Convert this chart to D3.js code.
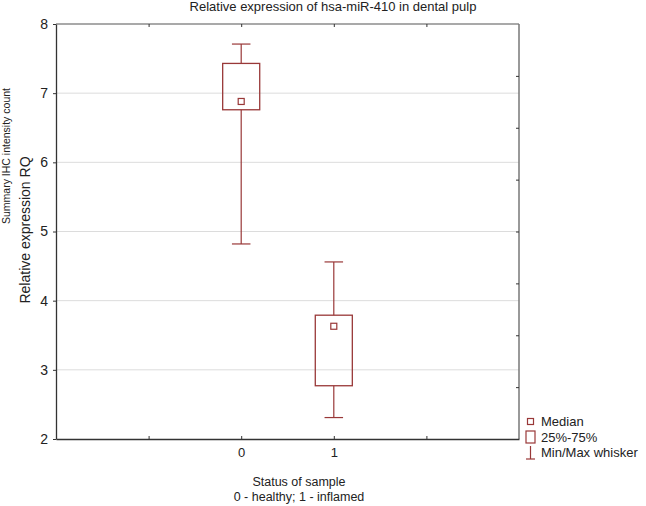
<!DOCTYPE html>
<html>
<head>
<meta charset="utf-8">
<script src="https://cdn.jsdelivr.net/npm/d3@7"></script>
<style>
  body { margin: 0; background: #fff; }
  text { font-family: "Liberation Sans", Arial, sans-serif; fill: #222; }
</style>
</head>
<body>
<div id="vis"></div>
<script>
// data
const GROUPS = [0, 1];
const WHISKER_MIN = [4.82, 2.31];
const Q1 = [6.76, 2.77];
const MEDIAN = [6.88, 3.63];
const Q3 = [7.43, 3.79];
const WHISKER_MAX = [7.71, 4.56];

const Y_TICKS = [2, 3, 4, 5, 6, 7, 8];
const X_TICK_LABELS = [0, 1];
const X_TICKS = [-1, 0, 1, 2];
const RIGHT_TICKS = [1, 2, 3, 4, 5, 6, 7];

const LEGEND_LABELS = ["Median", "25%-75%", "Min/Max whisker"];

// frame constants
const FRAME_WIDTH = 646;
const FRAME_HEIGHT = 506;
const MARGINS = {left: 56, right: 127, top: 24, bottom: 67};
const VIS_WIDTH = FRAME_WIDTH - MARGINS.left - MARGINS.right;
const VIS_HEIGHT = FRAME_HEIGHT - MARGINS.top - MARGINS.bottom;

const BOX_COLOR = "#993838";

const FRAME = d3.select("#vis")
                .append("svg")
                  .attr("width", FRAME_WIDTH)
                  .attr("height", FRAME_HEIGHT);

const X_SCALE = d3.scaleLinear()
                    .domain([-2, 3])
                    .range([MARGINS.left, MARGINS.left + VIS_WIDTH]);
const Y_SCALE = d3.scaleLinear()
                    .domain([2, 8])
                    .range([MARGINS.top + VIS_HEIGHT, MARGINS.top]);
const RIGHT_SCALE = d3.scaleLinear()
                    .domain([0, 8])
                    .range([MARGINS.top + VIS_HEIGHT, MARGINS.top]);

// gridlines
FRAME.append("g")
  .selectAll("line")
  .data(Y_TICKS.slice(1, -1))
  .enter()
  .append("line")
    .attr("x1", X_SCALE(-2))
    .attr("x2", X_SCALE(3))
    .attr("y1", (d) => Y_SCALE(d))
    .attr("y2", (d) => Y_SCALE(d))
    .attr("stroke", "#dcdcdc")
    .attr("stroke-width", 1);

// frame lines
FRAME.append("line") // top
  .attr("x1", X_SCALE(-2)).attr("x2", X_SCALE(3))
  .attr("y1", Y_SCALE(8)).attr("y2", Y_SCALE(8))
  .attr("stroke", "#555").attr("stroke-width", 1.2);
FRAME.append("line") // right
  .attr("x1", X_SCALE(3)).attr("x2", X_SCALE(3))
  .attr("y1", Y_SCALE(8)).attr("y2", Y_SCALE(2))
  .attr("stroke", "#777").attr("stroke-width", 1.5);

// bottom axis, ticks point inside
const xAxis = FRAME.append("g")
  .attr("transform", "translate(0," + Y_SCALE(2) + ")")
  .call(d3.axisBottom(X_SCALE).tickValues(X_TICKS).tickSizeInner(-3).tickSizeOuter(0)
        .tickFormat((d) => X_TICK_LABELS.includes(d) ? d : ""));
xAxis.select(".domain").attr("stroke", "#333").attr("stroke-width", 1.3);
xAxis.selectAll(".tick line").attr("stroke", "#333");
xAxis.selectAll("text").attr("y", 9).attr("font-size", "13px");

// top ticks
FRAME.append("g")
  .attr("transform", "translate(0," + Y_SCALE(8) + ")")
  .call(d3.axisTop(X_SCALE).tickValues(X_TICKS).tickSizeInner(-3).tickSizeOuter(0).tickFormat(""))
  .call((g) => g.select(".domain").remove())
  .selectAll(".tick line").attr("stroke", "#333");

// left axis
const yAxis = FRAME.append("g")
  .attr("transform", "translate(" + X_SCALE(-2) + ",0)")
  .call(d3.axisLeft(Y_SCALE).tickValues(Y_TICKS).tickSizeInner(3).tickSizeOuter(0)
        .tickFormat(d3.format("d")));
yAxis.select(".domain").attr("stroke", "#333").attr("stroke-width", 1.3);
yAxis.selectAll(".tick line").attr("stroke", "#333");
yAxis.selectAll("text").attr("x", -8).attr("font-size", "14px").attr("fill", "#333");

// right ticks (no labels)
FRAME.append("g")
  .attr("transform", "translate(" + X_SCALE(3) + ",0)")
  .call(d3.axisRight(RIGHT_SCALE).tickValues(RIGHT_TICKS).tickSizeInner(-3).tickSizeOuter(0).tickFormat(""))
  .call((g) => g.select(".domain").remove())
  .selectAll(".tick line").attr("stroke", "#333");

// boxes
const boxes = FRAME.append("g")
  .selectAll("g")
  .data(GROUPS)
  .enter()
  .append("g");

// whiskers
boxes.append("line")
  .attr("x1", (d) => X_SCALE(d)).attr("x2", (d) => X_SCALE(d))
  .attr("y1", (d, i) => Y_SCALE(WHISKER_MAX[i])).attr("y2", (d, i) => Y_SCALE(Q3[i]))
  .attr("stroke", BOX_COLOR).attr("stroke-width", 1.2);
boxes.append("line")
  .attr("x1", (d) => X_SCALE(d)).attr("x2", (d) => X_SCALE(d))
  .attr("y1", (d, i) => Y_SCALE(Q1[i])).attr("y2", (d, i) => Y_SCALE(WHISKER_MIN[i]))
  .attr("stroke", BOX_COLOR).attr("stroke-width", 1.2);
boxes.append("line")
  .attr("x1", (d) => X_SCALE(d - 0.1)).attr("x2", (d) => X_SCALE(d + 0.1))
  .attr("y1", (d, i) => Y_SCALE(WHISKER_MAX[i])).attr("y2", (d, i) => Y_SCALE(WHISKER_MAX[i]))
  .attr("stroke", BOX_COLOR).attr("stroke-width", 1.2);
boxes.append("line")
  .attr("x1", (d) => X_SCALE(d - 0.1)).attr("x2", (d) => X_SCALE(d + 0.1))
  .attr("y1", (d, i) => Y_SCALE(WHISKER_MIN[i])).attr("y2", (d, i) => Y_SCALE(WHISKER_MIN[i]))
  .attr("stroke", BOX_COLOR).attr("stroke-width", 1.2);

boxes.append("rect")
  .attr("x", (d) => X_SCALE(d - 0.2))
  .attr("width", (d) => X_SCALE(d + 0.2) - X_SCALE(d - 0.2))
  .attr("y", (d, i) => Y_SCALE(Q3[i]))
  .attr("height", (d, i) => Y_SCALE(Q1[i]) - Y_SCALE(Q3[i]))
  .attr("fill", "none")
  .attr("stroke", BOX_COLOR).attr("stroke-width", 1.3);

boxes.append("rect")
  .attr("x", (d) => X_SCALE(d) - 3)
  .attr("y", (d, i) => Y_SCALE(MEDIAN[i]) - 3)
  .attr("width", 6).attr("height", 6)
  .attr("fill", "none")
  .attr("stroke", BOX_COLOR).attr("stroke-width", 1.2);

// title and labels
FRAME.append("text")
  .attr("x", 333).attr("y", 11)
  .attr("text-anchor", "middle")
  .attr("font-size", "13px")
  .text("Relative expression of hsa-miR-410 in dental pulp");

FRAME.append("text")
  .attr("transform", "translate(30,230) rotate(-90)")
  .attr("text-anchor", "middle")
  .attr("font-size", "14px")
  .text("Relative expression RQ");

FRAME.append("text")
  .attr("transform", "translate(10,156) rotate(-90)")
  .attr("text-anchor", "middle")
  .attr("font-size", "10.5px")
  .text("Summary IHC intensity count");

FRAME.append("text")
  .attr("x", 299).attr("y", 486)
  .attr("text-anchor", "middle")
  .attr("font-size", "12.5px")
  .text("Status of sample");
FRAME.append("text")
  .attr("x", 299).attr("y", 501)
  .attr("text-anchor", "middle")
  .attr("font-size", "12.5px")
  .text("0 - healthy; 1 - inflamed");

// legend
const LEG_X = 530.5;
const legend = FRAME.append("g");
legend.append("rect")
  .attr("x", LEG_X - 3).attr("y", 418.5).attr("width", 6).attr("height", 6)
  .attr("fill", "none").attr("stroke", BOX_COLOR).attr("stroke-width", 1.2);
legend.append("rect")
  .attr("x", LEG_X - 4.5).attr("y", 431).attr("width", 9).attr("height", 12)
  .attr("fill", "none").attr("stroke", BOX_COLOR).attr("stroke-width", 1.2);
legend.append("line")
  .attr("x1", LEG_X).attr("x2", LEG_X).attr("y1", 446).attr("y2", 459)
  .attr("stroke", BOX_COLOR).attr("stroke-width", 1.2);
legend.append("line")
  .attr("x1", LEG_X - 4.5).attr("x2", LEG_X + 4.5).attr("y1", 459).attr("y2", 459)
  .attr("stroke", BOX_COLOR).attr("stroke-width", 1.2);
legend.selectAll("text.leg")
  .data(LEGEND_LABELS)
  .enter()
  .append("text")
    .attr("class", "leg")
    .attr("x", 541)
    .attr("y", (d, i) => 426 + i * 15.5)
    .attr("font-size", "13px")
    .text((d) => d);
</script>
</body>
</html>
